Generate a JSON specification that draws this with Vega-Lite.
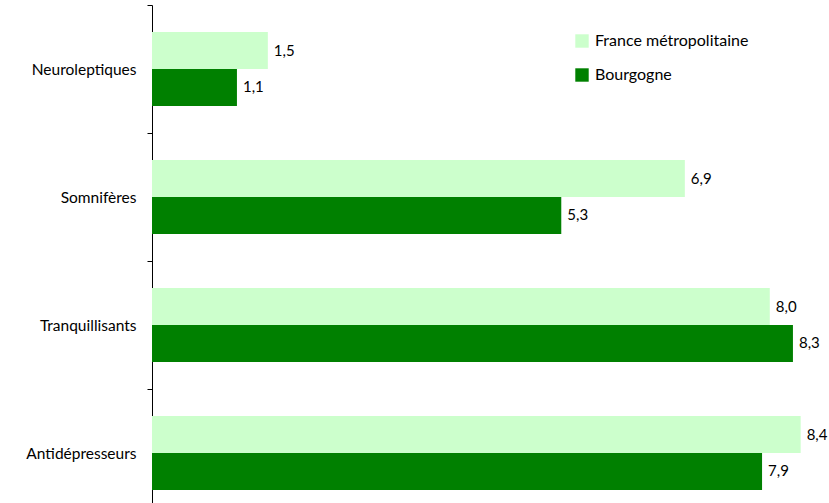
{
  "$schema": "https://vega.github.io/schema/vega-lite/v6.json",
  "width": 695,
  "height": 512,
  "autosize": {"type": "none"},
  "padding": {"left": 152, "top": 5, "right": 0, "bottom": 0},
  "background": "white",
  "config": {
    "view": {"stroke": null},
    "font": "Lato",
    "locale": {"number": {"decimal": ",", "thousands": " ", "grouping": [3], "currency": ["", " €"]}}
  },
  "data": {
    "values": [
      {"categorie": "Neuroleptiques", "zone": "France métropolitaine", "valeur": 1.5},
      {"categorie": "Neuroleptiques", "zone": "Bourgogne", "valeur": 1.1},
      {"categorie": "Somnifères", "zone": "France métropolitaine", "valeur": 6.9},
      {"categorie": "Somnifères", "zone": "Bourgogne", "valeur": 5.3},
      {"categorie": "Tranquillisants", "zone": "France métropolitaine", "valeur": 8.0},
      {"categorie": "Tranquillisants", "zone": "Bourgogne", "valeur": 8.3},
      {"categorie": "Antidépresseurs", "zone": "France métropolitaine", "valeur": 8.4},
      {"categorie": "Antidépresseurs", "zone": "Bourgogne", "valeur": 7.9}
    ]
  },
  "encoding": {
    "y": {
      "field": "categorie",
      "type": "nominal",
      "sort": ["Neuroleptiques", "Somnifères", "Tranquillisants", "Antidépresseurs"],
      "scale": {"paddingInner": 0, "paddingOuter": 0},
      "axis": {
        "title": null,
        "tickBand": "extent",
        "tickSize": 5,
        "tickColor": "#000000",
        "domainColor": "#000000",
        "labelPadding": 11,
        "labelFontSize": 15.5,
        "labelColor": "#000000",
        "labelFont": "Lato"
      }
    },
    "yOffset": {
      "field": "zone",
      "type": "nominal",
      "sort": ["France métropolitaine", "Bourgogne"],
      "scale": {"paddingInner": 0, "paddingOuter": 0.73}
    },
    "x": {
      "field": "valeur",
      "type": "quantitative",
      "scale": {"domain": [0, 9], "nice": false},
      "axis": null
    }
  },
  "layer": [
    {
      "mark": {"type": "bar"},
      "encoding": {
        "color": {
          "field": "zone",
          "type": "nominal",
          "sort": ["France métropolitaine", "Bourgogne"],
          "scale": {"domain": ["France métropolitaine", "Bourgogne"], "range": ["#CCFFCC", "#008000"]},
          "legend": {
            "title": null,
            "orient": "none",
            "legendX": 422,
            "legendY": 28,
            "symbolType": "square",
            "symbolSize": 180,
            "symbolStrokeWidth": 0,
            "labelFontSize": 16,
            "labelFont": "Lato",
            "labelColor": "#000000",
            "rowPadding": 18,
            "labelOffset": 5
          }
        }
      }
    },
    {
      "mark": {"type": "text", "align": "left", "baseline": "middle", "dx": 6, "fontSize": 15, "font": "Lato", "color": "#000000"},
      "encoding": {
        "text": {"field": "valeur", "type": "quantitative", "format": ".1f"}
      }
    }
  ]
}
